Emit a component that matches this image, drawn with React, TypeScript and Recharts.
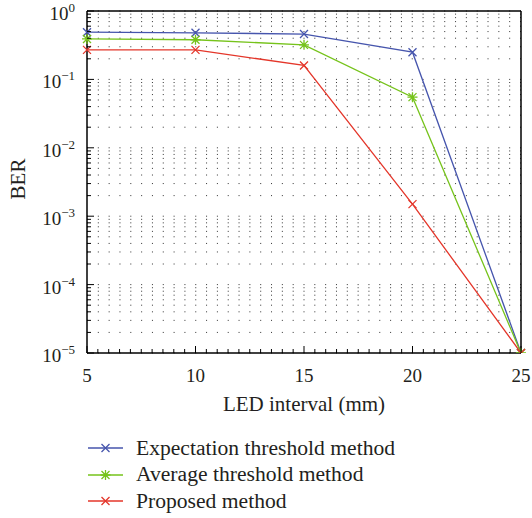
import React from "react";
import {
  CartesianGrid,
  Label,
  Line,
  LineChart,
  ReferenceLine,
  XAxis,
  YAxis,
} from "recharts";

// LED interval (mm) on x; BER on a log y axis.
const X_VALUES = [5, 10, 15, 20, 25];
const EXPECTATION = [0.49, 0.48, 0.46, 0.25, 1e-5];
const AVERAGE = [0.39, 0.38, 0.32, 0.055, 1e-5];
const PROPOSED = [0.27, 0.27, 0.16, 0.0015, 1e-5];

const SERIES = [
  { key: "expectation", name: "Expectation threshold method", color: "#4655ad", marker: "x" },
  { key: "average", name: "Average threshold method", color: "#76c31b", marker: "star" },
  { key: "proposed", name: "Proposed method", color: "#e4362a", marker: "x" },
];

const X_MAJOR = [5, 10, 15, 20, 25];
const Y_DECADES = [-5, -4, -3, -2, -1];

// minor ticks every 0.5 mm, log minors 2..9 per decade
const X_TICKS: number[] = [];
for (let v = 5; v <= 25; v += 0.5) X_TICKS.push(v);
const Y_TICKS: number[] = [];
for (const d of Y_DECADES) for (let m = 1; m <= 9; m++) Y_TICKS.push(m * Math.pow(10, d));
Y_TICKS.push(1);

const data = X_VALUES.map((x, i) => ({
  x,
  expectation: EXPECTATION[i],
  average: AVERAGE[i],
  proposed: PROPOSED[i],
}));

const FONT = "'Liberation Serif', 'Times New Roman', serif";
const INK = "#231f20";

function Marker({ cx, cy, color, type }: { cx: number; cy: number; color: string; type: string }) {
  const r = 4;
  let d = `M${cx - r},${cy - r}L${cx + r},${cy + r}M${cx - r},${cy + r}L${cx + r},${cy - r}`;
  if (type === "star") d += `M${cx},${cy - r - 1}L${cx},${cy + r + 1}M${cx - r - 1},${cy}L${cx + r + 1},${cy}`;
  return <path d={d} stroke={color} strokeWidth={1.3} fill="none" />;
}

function XTick(props: any) {
  const { x, y, payload } = props;
  const v = payload.value as number;
  const major = X_MAJOR.includes(v);
  return (
    <g>
      <line x1={x} x2={x} y1={y} y2={y - (major ? 7 : 4)} stroke="#000" strokeWidth={1} />
      {major && (
        <text x={x} y={y + 29} textAnchor="middle" fontFamily={FONT} fontSize={19} fill={INK}>
          {v}
        </text>
      )}
    </g>
  );
}

function YTick(props: any) {
  const { x, y, payload } = props;
  const v = payload.value as number;
  const lg = Math.log10(v);
  const exp = Math.round(lg);
  const major = Math.abs(lg - exp) < 1e-6;
  return (
    <g>
      <line x1={x} x2={x + (major ? 7 : 4)} y1={y} y2={y} stroke="#000" strokeWidth={1} />
      {major && (
        <text x={x - 12} y={y + 9} textAnchor="end" fontFamily={FONT} fontSize={19} fill={INK}>
          10
          <tspan dy={-8} fontSize={13}>
            {exp === 0 ? "0" : `\u2212${-exp}`}
          </tspan>
        </text>
      )}
    </g>
  );
}

export default function App() {
  return (
    <div style={{ position: "absolute", left: 0, top: 0, width: 532, height: 518, background: "#fff" }}>
      <LineChart width={532} height={425} data={data} margin={{ top: 11, right: 11, left: 0, bottom: 0 }}>
        <CartesianGrid vertical={false} stroke="#333" strokeDasharray="1 9.825" />
        <XAxis
          dataKey="x"
          type="number"
          domain={[5, 25]}
          ticks={X_TICKS}
          interval={0}
          tickSize={0}
          tickMargin={0}
          tickLine={false}
          tick={<XTick />}
          height={72}
          axisLine={{ stroke: "#000", strokeWidth: 1.5 }}
        >
          <Label
            content={({ viewBox }: any) => (
              <text
                x={viewBox.x + viewBox.width / 2}
                y={viewBox.y + 58}
                textAnchor="middle"
                fontFamily={FONT}
                fontSize={21}
                fill={INK}
              >
                LED interval (mm)
              </text>
            )}
          />
        </XAxis>
        <YAxis
          type="number"
          scale="log"
          domain={[1e-5, 1]}
          allowDataOverflow
          ticks={Y_TICKS}
          interval={0}
          tickSize={0}
          tickMargin={0}
          tickLine={false}
          tick={<YTick />}
          width={87}
          axisLine={{ stroke: "#000", strokeWidth: 1.5 }}
        >
          <Label
            content={({ viewBox }: any) => (
              <text
                x={25}
                y={viewBox.y + viewBox.height / 2 - 3}
                textAnchor="middle"
                transform={`rotate(-90, 25, ${viewBox.y + viewBox.height / 2 - 3})`}
                fontFamily={FONT}
                fontSize={21}
                fill={INK}
              >
                BER
              </text>
            )}
          />
        </YAxis>
        <ReferenceLine y={1} stroke="#000" strokeWidth={1.5} />
        <ReferenceLine x={25} stroke="#000" strokeWidth={1.5} />
        {SERIES.map((s) => (
          <Line
            key={s.key}
            type="linear"
            dataKey={s.key}
            name={s.name}
            stroke={s.color}
            strokeWidth={1.3}
            isAnimationActive={false}
            dot={(p: any) => <Marker key={`${s.key}-${p.index}`} cx={p.cx} cy={p.cy} color={s.color} type={s.marker} />}
            activeDot={false}
          />
        ))}
      </LineChart>
      {SERIES.map((s, i) => (
        <div
          key={s.key}
          style={{
            position: "absolute",
            left: 86,
            top: 448 + i * 26.5 - 13,
            height: 26,
            display: "flex",
            alignItems: "center",
            fontFamily: FONT,
            fontSize: 21.6,
            color: INK,
            whiteSpace: "nowrap",
          }}
        >
          <svg width={40} height={26} style={{ display: "block" }}>
            <line x1={2} x2={37} y1={13} y2={13} stroke={s.color} strokeWidth={1.3} />
            <Marker cx={19.5} cy={13} color={s.color} type={s.marker} />
          </svg>
          <span style={{ marginLeft: 10 }}>{s.name}</span>
        </div>
      ))}
    </div>
  );
}
